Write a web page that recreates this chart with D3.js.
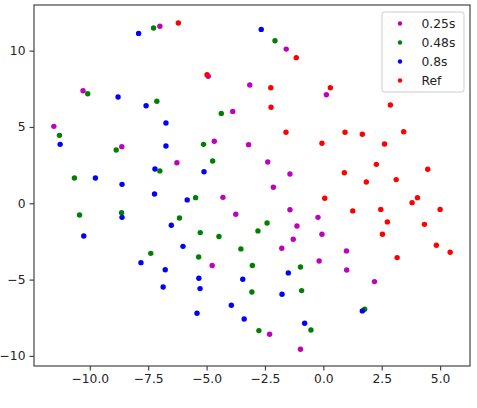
<!DOCTYPE html>
<html>
<head>
<meta charset="utf-8">
<script src="https://cdn.jsdelivr.net/npm/d3@7"></script>
<style>
  body { margin: 0; background: #fff; }
  svg text { font-family: "DejaVu Sans", sans-serif; }
</style>
</head>
<body>
<script>
'use strict';

// values, [x, y] pairs
const s025 = [
  [-7.0, 11.6], [-10.29, 7.37], [-11.54, 5.04], [-8.63, 3.71], [-6.27, 2.66],
  [-1.59, 10.1], [-4.93, 8.32], [-3.15, 7.75], [0.13, 7.11], [-3.88, 6.02],
  [-4.67, 4.06], [-3.2, 3.84], [-2.38, 2.7], [-1.43, 1.92], [-2.14, 1.05],
  [-4.3, 0.39], [-3.75, -0.72], [-1.43, -0.42], [-0.23, -0.92], [-1.13, -1.49],
  [-0.06, -2.03], [-1.29, -2.36], [-1.78, -2.95], [-4.76, -4.08], [-0.18, -3.78],
  [-2.3, -8.58], [-0.98, -9.56], [0.99, -3.12], [1.0, -4.37], [2.19, -5.13]
];
const s048 = [
  [-7.27, 11.48], [-10.09, 7.18], [-7.13, 6.68], [-11.3, 4.45], [-8.87, 3.49],
  [-7.0, 2.12], [-10.66, 1.66], [-10.44, -0.77], [-8.64, -0.62], [-6.16, -0.96],
  [-7.39, -3.28], [-2.07, 10.65], [-4.37, 5.89], [-5.13, 3.86], [-4.74, 2.77],
  [-5.47, 0.37], [-5.27, -1.92], [-4.47, -2.18], [-2.41, -1.29], [-2.8, -1.81],
  [-3.53, -2.99], [-5.34, -3.52], [-3.04, -4.08], [-0.98, -4.17], [-3.06, -5.81],
  [-0.93, -5.72], [-0.53, -8.3], [-2.76, -8.34], [1.77, -6.94]
];
const s08 = [
  [-7.91, 11.13], [-8.79, 6.96], [-7.59, 6.39], [-11.27, 3.86], [-6.74, 5.26],
  [-6.74, 3.75], [-7.21, 2.25], [-9.76, 1.66], [-8.62, 1.24], [-7.23, 0.61],
  [-8.62, -0.92], [-6.51, -1.44], [-10.26, -2.14], [-7.81, -3.89], [-6.77, -4.35],
  [-6.86, -5.48], [-2.66, 11.39], [-5.11, 2.07], [-5.83, 0.22], [-6.01, -2.82],
  [-1.5, -4.56], [-5.33, -4.91], [-3.45, -4.98], [-5.28, -5.59], [-1.77, -5.96],
  [-3.94, -6.68], [-5.41, -7.2], [-3.39, -7.58], [-0.8, -7.86], [1.67, -7.05]
];
const ref = [
  [-6.21, 11.81], [-1.16, 9.54], [-4.98, 8.42], [-2.25, 7.57], [-2.24, 6.29],
  [-1.6, 4.65], [-0.06, 3.93], [0.3, 7.57], [2.87, 6.44], [0.93, 4.65],
  [1.67, 4.52], [3.44, 4.69], [2.62, 3.88], [2.27, 2.55], [0.9, 2.0],
  [1.84, 1.39], [3.12, 1.55], [4.47, 2.23], [0.06, 0.33], [1.26, -0.5],
  [2.46, -0.4], [2.74, -1.22], [2.53, -2.03], [3.8, 0.04], [4.03, 0.37],
  [5.0, -0.4], [4.33, -1.38], [4.84, -2.75], [5.43, -3.21], [3.16, -3.56]
];

const seriesNames = ['0.25s', '0.48s', '0.8s', 'Ref'];
const seriesColors = ['#bf00bf', '#008000', '#0000ff', '#ff0000'];
const xTicks = [-10, -7.5, -5, -2.5, 0, 2.5, 5];
const yTicks = [-10, -5, 0, 5, 10];

const width = 477, height = 408;
const margin = { left: 34, right: 7, top: 5, bottom: 42 };

const svg = d3.select('body').append('svg')
  .attr('width', width)
  .attr('height', height);

// scales, domain padded like matplotlib's default margins
const xScale = d3.scaleLinear()
  .domain([-12.39, 6.28])
  .range([margin.left, width - margin.right]);
const yScale = d3.scaleLinear()
  .domain([-10.66, 12.99])
  .range([height - margin.bottom, margin.top]);

const fmtX = d => (d < 0 ? '\u2212' : '') + Math.abs(d).toFixed(1);
const fmtY = d => (d < 0 ? '\u2212' : '') + Math.abs(d);

// x axis
const xAxis = svg.append('g')
  .attr('transform', `translate(0, ${height - margin.bottom})`)
  .call(d3.axisBottom(xScale).tickValues(xTicks).tickFormat(fmtX).tickSizeInner(4.5).tickSizeOuter(0).tickPadding(4));

// y axis
const yAxis = svg.append('g')
  .attr('transform', `translate(${margin.left}, 0)`)
  .call(d3.axisLeft(yScale).tickValues(yTicks).tickFormat(fmtY).tickSizeInner(4.5).tickSizeOuter(0).tickPadding(4));

[xAxis, yAxis].forEach(ax => {
  ax.select('.domain').remove();
  ax.selectAll('line').attr('stroke', '#444').attr('stroke-width', 1.2);
  ax.selectAll('text').attr('fill', '#222').style('font-size', '12.3px');
});

// frame around the plot area
svg.append('rect')
  .attr('x', margin.left)
  .attr('y', margin.top)
  .attr('width', width - margin.left - margin.right)
  .attr('height', height - margin.top - margin.bottom)
  .attr('fill', 'none')
  .attr('stroke', '#444')
  .attr('stroke-width', 1.2);

// points, drawn series by series
const allSeries = [s025, s048, s08, ref];
allSeries.forEach((pts, i) => {
  svg.append('g')
    .selectAll('circle')
    .data(pts)
    .enter()
    .append('circle')
      .attr('cx', d => xScale(d[0]))
      .attr('cy', d => yScale(d[1]))
      .attr('r', 2.7)
      .attr('fill', seriesColors[i]);
});

// legend
const legend = svg.append('g').attr('transform', 'translate(382, 12)');
legend.append('rect')
  .attr('width', 82)
  .attr('height', 80)
  .attr('rx', 2.5)
  .attr('fill', 'rgba(255,255,255,0.8)')
  .attr('stroke', '#ccc')
  .attr('stroke-width', 1);
seriesNames.forEach((name, i) => {
  legend.append('circle')
    .attr('cx', 18)
    .attr('cy', 11.5 + i * 19)
    .attr('r', 2.2)
    .attr('fill', seriesColors[i]);
  legend.append('text')
    .attr('x', 39.5)
    .attr('y', 11.5 + i * 19)
    .attr('dy', '0.36em')
    .style('font-size', '12.3px')
    .attr('fill', '#222')
    .text(name);
});
</script>
</body>
</html>
